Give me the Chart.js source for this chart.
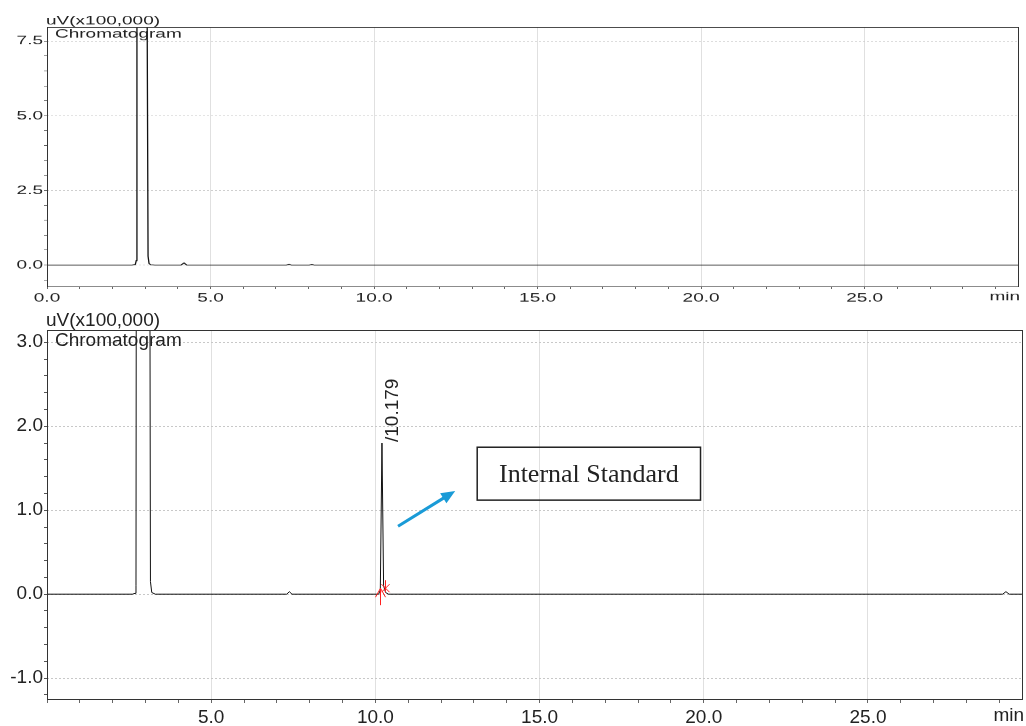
<!DOCTYPE html>
<html>
<head>
<meta charset="utf-8">
<script src="https://cdn.jsdelivr.net/npm/chart.js@4.4.1/dist/chart.umd.min.js"></script>
<style>
body{margin:0;background:#fff;width:1026px;height:726px;overflow:hidden;position:relative;}
#top{position:absolute;left:0;top:0;transform:scaleY(0.66);transform-origin:0 0;}
#bot{position:absolute;left:0;top:310px;}
</style>
</head>
<body>
<canvas id="top" width="1026" height="470"></canvas>
<canvas id="bot" width="1026" height="416"></canvas>
<script>
// retention time (min) and detector signal (uV x100,000)
var topTime   = [0, 2.60, 2.70, 2.73, 2.75, 3.06, 3.09, 3.12, 3.17, 3.30, 4.10, 4.19, 4.27, 6.50, 7.32, 7.40, 7.47, 8.02, 8.10, 8.17, 29.72];
var topSignal = [0, 0, 0.02, 0.15, 9, 9, 0.3, 0.05, 0.01, 0, 0, 0.07, 0, 0, 0, 0.025, 0, 0, 0.02, 0, 0];
var botTime   = [0, 2.60, 2.68, 2.71, 2.73, 3.11, 3.15, 3.19, 3.30, 7.30, 7.38, 7.46, 10.10, 10.15, 10.20, 10.25, 10.31, 10.40, 29.10, 29.20, 29.30, 29.72];
var botSignal = [0, 0, 0.01, 0.1, 9, 9, 0.15, 0.02, 0, 0, 0.03, 0, 0, 0.05, 1.8, 0.1, 0.02, 0, 0, 0.03, 0, 0];

var topXTicks = [0, 5, 10, 15, 20, 25];
var botXTicks = [5, 10, 15, 20, 25];
var topYTicks = [0, 2.5, 5, 7.5];
var botYTicks = [-1, 0, 1, 2, 3];

var peakName = ['10.179'];
var peakMarks = [10.14, 10.29];   // integration start / end

var FONT = 'Liberation Sans, Arial, sans-serif';

function isIn(list, v) {
  return list.some(function (m) { return Math.abs(m - v) < 1e-6; });
}

function steps(from, to, step) {
  var out = [];
  for (var v = from; v <= to + 1e-9; v += step) out.push(Math.round(v * 1000) / 1000);
  return out;
}

function makeChart(id, time, signal, o) {
  var pts = time.map(function (t, i) { return {x: t, y: signal[i]}; });
  return new Chart(document.getElementById(id), {
    type: 'line',
    data: {datasets: [{data: pts, borderColor: '#111', borderWidth: o.lw, pointRadius: 0, tension: 0}]},
    options: {
      responsive: false, animation: false, devicePixelRatio: 1,
      layout: {padding: {top: o.padTop, right: o.padRight, left: 0, bottom: 0}},
      plugins: {legend: {display: false}, tooltip: {enabled: false}},
      scales: {
        x: {
          type: 'linear', min: 0, max: 29.72,
          afterBuildTicks: function (s) { s.ticks = steps(0, 29, 1).map(function (v) { return {value: v}; }); },
          afterFit: function (s) { s.height = o.xH; },
          border: {display: false},
          grid: {
            color: function (c) { return (c.tick && isIn([5, 10, 15, 20, 25], c.tick.value)) ? '#e0e0e0' : 'rgba(0,0,0,0)'; },
            tickColor: '#666', tickLength: 3, lineWidth: 1
          },
          ticks: {
            autoSkip: false, maxRotation: 0, padding: o.xPad, color: '#222',
            font: {family: FONT, size: 19},
            callback: function (v) { return isIn(o.xTicks, v) ? v.toFixed(1) : ''; }
          }
        },
        y: {
          min: o.yMin, max: o.yMax,
          afterBuildTicks: function (s) { s.ticks = o.yMinor.map(function (v) { return {value: v}; }); },
          afterFit: function (s) { s.width = 47; },
          border: {display: false, dash: [2, 2]},
          grid: {
            color: function (c) { return (c.tick && isIn(o.yTicks, c.tick.value)) ? '#c8c8c8' : 'rgba(0,0,0,0)'; },
            tickColor: '#555', tickLength: 3
          },
          ticks: {
            autoSkip: false, padding: 1, color: '#222',
            font: {family: FONT, size: 19},
            callback: function (v) { return isIn(o.yTicks, v) ? v.toFixed(1) : ''; }
          }
        }
      }
    },
    plugins: [{
      id: 'frame',
      afterDraw: function (chart) {
        var ctx = chart.ctx, a = chart.chartArea;
        ctx.save();
        ctx.strokeStyle = '#333';
        ctx.lineWidth = 1;
        ctx.strokeRect(a.left + 0.5, a.top + 0.5, a.right - a.left - 1, a.bottom - a.top - 1);
        ctx.fillStyle = '#222';
        ctx.font = '19px ' + FONT;
        ctx.textBaseline = 'alphabetic';
        ctx.textAlign = 'left';
        ctx.fillText('uV(x100,000)', 46, a.top - 4);
        ctx.fillText('Chromatogram', 55, a.top + 15.5);
        ctx.textAlign = 'right';
        ctx.textBaseline = 'middle';
        ctx.fillText('min', a.right + 1, a.bottom + o.minY);
        ctx.restore();
        if (o.extra) o.extra(chart);
      }
    }]
  });
}

makeChart('top', topTime, topSignal, {
  lw: 1.3, padTop: 41, padRight: 7, xH: 35, xPad: 2, minY: 15,
  yMin: -0.74, yMax: 7.97, yTicks: topYTicks, yMinor: steps(-0.5, 7.5, 0.5),
  xTicks: topXTicks
});

makeChart('bot', botTime, botSignal, {
  lw: 1, padTop: 20, padRight: 3, xH: 26, xPad: 3, minY: 16,
  yMin: -1.26, yMax: 3.146, yTicks: botYTicks, yMinor: steps(-1.2, 3.0, 0.2),
  xTicks: botXTicks,
  extra: function (chart) {
    var ctx = chart.ctx, xs = chart.scales.x, ys = chart.scales.y;
    // apex of the internal standard peak
    var iMax = 0;
    botTime.forEach(function (t, i) { if (t > 9 && t < 11 && botSignal[i] > botSignal[iMax]) iMax = i; });
    var ax = xs.getPixelForValue(botTime[iMax]), ay = ys.getPixelForValue(botSignal[iMax]);
    ctx.save();
    ctx.fillStyle = '#222';
    ctx.font = '19px ' + FONT;
    ctx.translate(ax + 11, ay - 1);
    ctx.rotate(-Math.PI / 2);
    ctx.textAlign = 'left';
    ctx.textBaseline = 'middle';
    ctx.fillText('/' + peakName[0], 0, 0);
    ctx.restore();

    // integration markers
    var y0 = ys.getPixelForValue(0);
    ctx.save();
    ctx.strokeStyle = '#ff2020';
    ctx.lineWidth = 1;
    var sx = Math.round(xs.getPixelForValue(peakMarks[0])) + 0.5;
    ctx.beginPath();
    ctx.moveTo(sx, y0 - 6); ctx.lineTo(sx, y0 + 11);
    ctx.moveTo(sx - 5, y0 + 3); ctx.lineTo(sx, y0 - 6); ctx.lineTo(sx + 5, y0 + 3);
    ctx.stroke();
    var ex = Math.round(xs.getPixelForValue(peakMarks[1])) + 0.5;
    ctx.beginPath();
    ctx.moveTo(ex - 4, y0 - 10); ctx.lineTo(ex + 4, y0 - 2);
    ctx.moveTo(ex + 4, y0 - 10); ctx.lineTo(ex - 4, y0 - 2);
    ctx.moveTo(ex, y0 - 14); ctx.lineTo(ex, y0 - 2);
    ctx.stroke();
    ctx.restore();

    // "Internal Standard" callout
    var bx1 = xs.getPixelForValue(13.1), bx2 = xs.getPixelForValue(19.9);
    var by1 = ys.getPixelForValue(1.75), by2 = ys.getPixelForValue(1.12);
    ctx.save();
    ctx.strokeStyle = '#222';
    ctx.lineWidth = 1.5;
    ctx.strokeRect(bx1, by1, bx2 - bx1, by2 - by1);
    ctx.fillStyle = '#222';
    ctx.font = '26px Liberation Serif, Times New Roman, serif';
    ctx.textAlign = 'center';
    ctx.textBaseline = 'middle';
    ctx.fillText('Internal Standard', (bx1 + bx2) / 2, (by1 + by2) / 2 + 1);
    // blue arrow
    var x1 = xs.getPixelForValue(10.69), y1 = ys.getPixelForValue(0.81);
    var x2 = xs.getPixelForValue(12.43), y2 = ys.getPixelForValue(1.23);
    var ang = Math.atan2(y2 - y1, x2 - x1);
    ctx.strokeStyle = '#1a9bd7';
    ctx.fillStyle = '#1a9bd7';
    ctx.lineWidth = 3;
    ctx.beginPath();
    ctx.moveTo(x1, y1);
    ctx.lineTo(x2 - 10 * Math.cos(ang), y2 - 10 * Math.sin(ang));
    ctx.stroke();
    ctx.beginPath();
    ctx.moveTo(x2, y2);
    ctx.lineTo(x2 - 14 * Math.cos(ang) + 6 * Math.sin(ang), y2 - 14 * Math.sin(ang) - 6 * Math.cos(ang));
    ctx.lineTo(x2 - 14 * Math.cos(ang) - 6 * Math.sin(ang), y2 - 14 * Math.sin(ang) + 6 * Math.cos(ang));
    ctx.closePath();
    ctx.fill();
    ctx.restore();
  }
});
</script>
</body>
</html>
